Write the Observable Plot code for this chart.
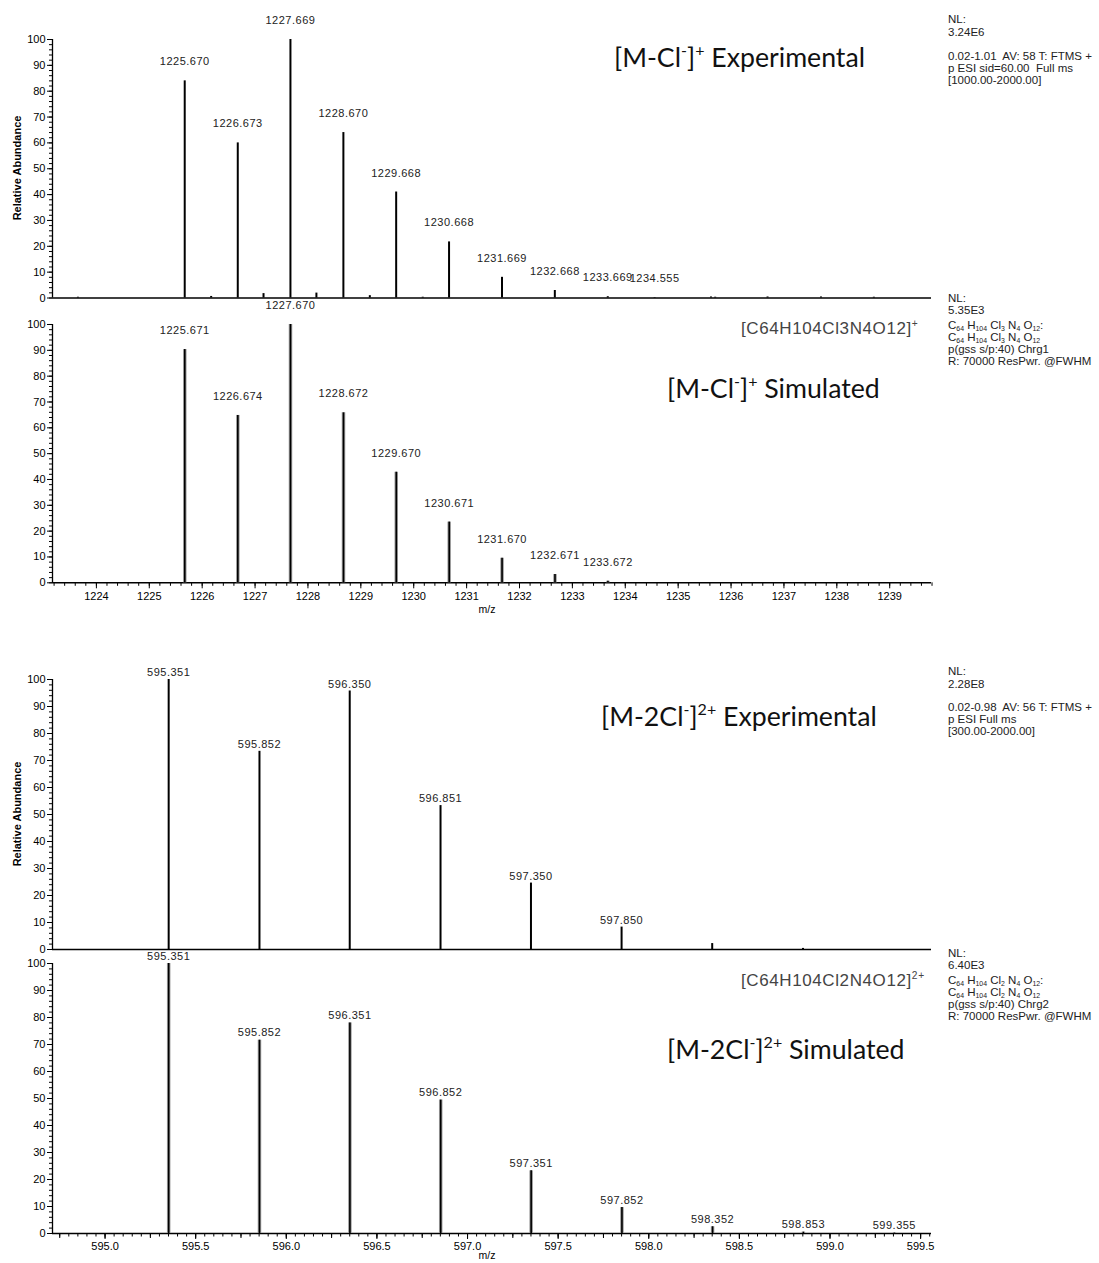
<!DOCTYPE html>
<html><head><meta charset="utf-8">
<script src="https://cdn.jsdelivr.net/npm/d3@7"></script>
<script src="https://cdn.jsdelivr.net/npm/@observablehq/plot@0.6"></script>
<style>
body{margin:0;background:#fff;}
#root{position:relative;width:1099px;height:1263px;overflow:hidden;font-family:"Liberation Sans",Arial,sans-serif;background:#fff;}
.panel{position:absolute;left:0;}
.t{position:absolute;white-space:nowrap;line-height:1;transform:translateY(-50%);}
.title{font-family:Lato,"Open Sans",sans-serif;font-size:26.7px;color:#111;}
.formula{font-size:17px;color:#444;letter-spacing:0.6px;}
.info{font-size:11.5px;color:#222;}
.ylab{position:absolute;font-weight:bold;font-size:11px;white-space:nowrap;transform:translate(-50%,-50%) rotate(-90deg);line-height:1;}
.mz{position:absolute;font-size:10.5px;transform:translate(-50%,-50%);line-height:1;}
sup{font-size:60%;vertical-align:0.65em;line-height:0;}
sub{font-size:60%;vertical-align:-0.3em;line-height:0;}
</style></head><body><div id="root"></div>
<script>
// ---- [M-Cl]+ experimental ----
const exp1Mz = [1223.65, 1225.670, 1226.17, 1226.673, 1227.16, 1227.669, 1228.16, 1228.670, 1229.17, 1229.668, 1230.17, 1230.668, 1231.669, 1232.668, 1233.669, 1234.555, 1235.62, 1235.70, 1236.69, 1237.70, 1238.70];
const exp1Ab = [0.3, 84, 0.6, 60, 1.7, 100, 1.9, 64, 0.9, 41, 0.3, 21.7, 8, 2.9, 0.5, 0.2, 0.4, 0.3, 0.4, 0.4, 0.3];
const exp1Labels = ["1225.670","1226.673","1227.669","1228.670","1229.668","1230.668","1231.669","1232.668","1233.669","1234.555"];
// ---- [M-Cl]+ simulated ----
const sim1Mz = [1225.671, 1226.674, 1227.670, 1228.672, 1229.670, 1230.671, 1231.670, 1232.671, 1233.672];
const sim1Ab = [90.3, 64.8, 100, 65.8, 42.8, 23.5, 9.5, 3.2, 0.6];
const sim1Labels = ["1225.671","1226.674","1227.670","1228.672","1229.670","1230.671","1231.670","1232.671","1233.672"];
// ---- [M-2Cl]2+ experimental ----
const exp2Mz = [595.351, 595.852, 596.350, 596.851, 597.350, 597.850, 598.350, 598.851];
const exp2Ab = [100, 73.4, 95.7, 53.3, 24.6, 8.3, 2.2, 0.4];
const exp2Labels = ["595.351","595.852","596.350","596.851","597.350","597.850"];
// ---- [M-2Cl]2+ simulated ----
const sim2Mz = [595.351, 595.852, 596.351, 596.852, 597.351, 597.852, 598.352, 598.853, 599.355];
const sim2Ab = [100, 71.6, 78, 49.4, 23.2, 9.6, 2.5, 0.5, 0.15];
const sim2Labels = ["595.351","595.852","596.351","596.852","597.351","597.852","598.352","598.853","599.355"];
// ---- axes ----
const domain1 = [1223.17, 1239.79];
const domain2 = [594.71, 599.56];
const ticks1Major = [1224,1225,1226,1227,1228,1229,1230,1231,1232,1233,1234,1235,1236,1237,1238,1239];
const ticks2Major = [595.0,595.5,596.0,596.5,597.0,597.5,598.0,598.5,599.0,599.5];
const yTicks = [0,10,20,30,40,50,60,70,80,90,100];

const root = document.getElementById("root");

function peaksOf(mz, ab){ return mz.map((m,i)=>({mz:m, ab:ab[i]})); }
function labelsOf(lbls, mz, ab){ return lbls.map(s=>{const i = mz.indexOf(+s); return {mz:+s, ab:ab[i], text:s};}); }

function panel(o){
  const mT = 30, mB = o.xMajor ? 34 : 6;
  const peaks = peaksOf(o.mz, o.ab);
  const labels = labelsOf(o.labels, o.mz, o.ab);
  const marks = [
    Plot.axisY({ticks: yTicks, tickSize: 5, tickPadding: 2, fontSize: 11, label: null}),
    Plot.axisY({ticks: d3.range(0, 101, 2), tickSize: 3, tickFormat: () => "", label: null}),
  ];
  if (o.xMajor) {
    marks.push(Plot.axisX({ticks: o.xMajor, tickSize: 6, tickPadding: 3, tickFormat: o.fmt, label: null, fontSize: 11}));
    marks.push(Plot.axisX({ticks: o.xMinor, tickSize: 3.5, tickFormat: () => "", label: null}));
    if (o.xMid) marks.push(Plot.axisX({ticks: o.xMid, tickSize: 5, tickFormat: () => "", label: null}));
  }
  marks.push(Plot.ruleX([o.domain[0]], {y1: 0, y2: 100, strokeWidth: 1.3}));
  marks.push(Plot.ruleY([0], {strokeWidth: 1.5}));
  if (o.sim) marks.push(Plot.ruleX(peaks, {x: "mz", y1: 0, y2: "ab", stroke: "#999", strokeWidth: 3.5}));
  marks.push(Plot.ruleX(peaks, {x: "mz", y1: 0, y2: "ab", stroke: "#000", strokeWidth: o.sim ? 1.6 : 2}));
  marks.push(Plot.text(labels, {x: "mz", y: "ab", text: "text", dy: o.dy, fontSize: 11, fill: "#222", style: "letter-spacing:0.5px"}));
  const p = Plot.plot({
    width: 1099, height: o.h + mT + mB,
    marginLeft: 52, marginRight: 168, marginTop: mT, marginBottom: mB,
    style: {fontFamily: "Liberation Sans, Arial, sans-serif", fontSize: "10px", overflow: "visible", background: "transparent", color: "#000"},
    x: o.xMajor ? {domain: o.domain} : {domain: o.domain, axis: null},
    y: {domain: [0, 100]},
    marks
  });
  p.classList.add("panel");
  p.style.top = (o.y100 - mT) + "px";
  p.querySelectorAll("text").forEach(t => { if (/^\d{3,4}\.\d{3}$/.test(t.textContent)) t.style.letterSpacing = "0.5px"; });
  root.appendChild(p);
}

const minor1 = d3.range(6116, 6200).map(i => i / 5);
const minor2 = d3.range(11895, 11992).map(i => i / 20);
const mid2 = d3.range(2379, 2399).map(i => i / 4);

panel({mz: exp1Mz, ab: exp1Ab, labels: exp1Labels, domain: domain1, y100: 39, h: 258.5, dy: -19});
panel({mz: sim1Mz, ab: sim1Ab, labels: sim1Labels, domain: domain1, y100: 324, h: 258.3, dy: -19, sim: true,
       xMajor: ticks1Major, xMinor: minor1, fmt: d => String(d)});
panel({mz: exp2Mz, ab: exp2Ab, labels: exp2Labels, domain: domain2, y100: 679, h: 270, dy: -7});
panel({mz: sim2Mz, ab: sim2Ab, labels: sim2Labels, domain: domain2, y100: 963.3, h: 270, dy: -7.5, sim: true,
       xMajor: ticks2Major, xMinor: minor2, xMid: mid2, fmt: d => d.toFixed(1)});

// ---- text ----
function addText(cls, html, left, cy){
  const d = document.createElement("div");
  d.className = "t " + cls; d.innerHTML = html;
  d.style.left = left + "px"; d.style.top = cy + "px";
  root.appendChild(d);
}
addText("title", "[M-Cl<sup>-</sup>]<sup>+</sup> Experimental", 614, 57);
addText("title", "[M-Cl<sup>-</sup>]<sup>+</sup> Simulated", 667, 388);
addText("formula", "[C64H104Cl3N4O12]<sup>+</sup>", 741, 328);
addText("title", "[M-2Cl<sup>-</sup>]<sup>2+</sup> Experimental", 601, 716);
addText("title", "[M-2Cl<sup>-</sup>]<sup>2+</sup> Simulated", 667, 1049);
addText("formula", "[C64H104Cl2N4O12]<sup>2+</sup>", 741, 980);

const info1 = [["NL:",20],["3.24E6",33],["0.02-1.01&nbsp; AV: 58 T: FTMS +",57],["p ESI sid=60.00&nbsp; Full ms",69],["[1000.00-2000.00]",81]];
const info2 = [["NL:",299],["5.35E3",311],["C<sub>64</sub> H<sub>104</sub> Cl<sub>3</sub> N<sub>4</sub> O<sub>12</sub>:",326],["C<sub>64</sub> H<sub>104</sub> Cl<sub>3</sub> N<sub>4</sub> O<sub>12</sub>",338],["p(gss s/p:40) Chrg1",350],["R: 70000 ResPwr. @FWHM",362]];
const info3 = [["NL:",672],["2.28E8",685],["0.02-0.98&nbsp; AV: 56 T: FTMS +",708],["p ESI Full ms",720],["[300.00-2000.00]",732]];
const info4 = [["NL:",954],["6.40E3",966],["C<sub>64</sub> H<sub>104</sub> Cl<sub>2</sub> N<sub>4</sub> O<sub>12</sub>:",981],["C<sub>64</sub> H<sub>104</sub> Cl<sub>2</sub> N<sub>4</sub> O<sub>12</sub>",993],["p(gss s/p:40) Chrg2",1005],["R: 70000 ResPwr. @FWHM",1017]];
[info1, info2, info3, info4].forEach(arr => arr.forEach(([s, y]) => addText("info", s, 948, y)));

function yLabel(cy){
  const d = document.createElement("div");
  d.className = "ylab"; d.textContent = "Relative Abundance";
  d.style.left = "17px"; d.style.top = cy + "px";
  root.appendChild(d);
}
yLabel(168); yLabel(814);
function mzLabel(cy){
  const d = document.createElement("div");
  d.className = "mz"; d.textContent = "m/z";
  d.style.left = "487px"; d.style.top = cy + "px";
  root.appendChild(d);
}
mzLabel(609); mzLabel(1255);
</script></body></html>
